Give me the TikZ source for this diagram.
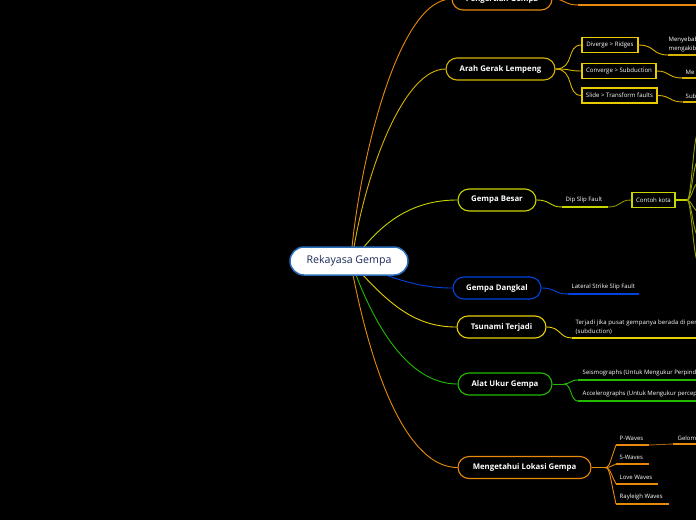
\documentclass[tikz,border=0pt]{standalone}
\usepackage{fontspec}
\setmainfont{Open Sans}
\definecolor{cOr}{HTML}{E8890C}
\definecolor{cGold}{HTML}{D8B400}
\definecolor{cBox}{HTML}{E8CC00}
\definecolor{cYG}{HTML}{C8D400}
\definecolor{cBlue}{HTML}{0044DD}
\definecolor{cYel}{HTML}{E8D000}
\definecolor{cGrn}{HTML}{22BB00}
\definecolor{cRoot}{HTML}{2A6EBB}
\definecolor{cNavy}{HTML}{1A2A5A}
\begin{document}
\begin{tikzpicture}[x=1pt,y=-1pt,
  mainnode/.style={draw, line width=1.1pt, rounded corners=11pt, fill=black, text=white,
    font=\fontsize{7.8}{9}\selectfont\bfseries, minimum height=22pt, inner sep=0pt},
  boxnode/.style={draw, line width=1.3pt, fill=black, text=white,
    font=\fontsize{6.1}{7}\selectfont, minimum height=15pt, inner sep=0pt},
  lbl/.style={text=white, font=\fontsize{6}{9}\selectfont, anchor=south west, inner sep=0.5pt, align=left},
  conn/.style={line width=0.9pt},
  uline/.style={line width=1.6pt}
]
\fill[black] (0,0) rectangle (696,520);
\useasboundingbox (0,0) rectangle (696,520);

% root exit points
\coordinate (r1) at (352,247);
\coordinate (r2) at (354,247);
\coordinate (r3) at (363,248);
\coordinate (r4) at (383,274);
\coordinate (r5) at (362,274);
\coordinate (r6) at (356,275);
\coordinate (r7) at (353,275);

% main nodes
\node[mainnode, draw=cOr, minimum width=100pt] (pg) at (502,-1) {Pengertian Gempa};
\node[mainnode, draw=cGold, minimum width=109pt] (ag) at (500.5,69) {Arah Gerak Lempeng};
\node[mainnode, draw=cYG, minimum width=78pt] (gb) at (497,200) {Gempa Besar};
\node[mainnode, draw=cBlue, minimum width=88pt] (gd) at (497,288) {Gempa Dangkal};
\node[mainnode, draw=cYel, minimum width=89pt] (tt) at (501.5,327) {Tsunami Terjadi};
\node[mainnode, draw=cGrn, minimum width=94pt] (au) at (505,384) {Alat Ukur Gempa};
\node[mainnode, draw=cOr, minimum width=133pt] (ml) at (524.5,467.5) {Mengetahui Lokasi Gempa};

% root connectors
\draw[conn, cOr] (r1) .. controls (362,150) and (400,-1) .. (pg.west);
\draw[conn, cGold] (r2) .. controls (368,165) and (405,69) .. (ag.west);
\draw[conn, cYG] (r3) .. controls (390,215) and (420,200) .. (gb.west);
\draw[conn, cBlue] (r4) .. controls (410,284) and (430,288) .. (gd.west);
\draw[conn, cYel] (r5) .. controls (395,310) and (420,327) .. (tt.west);
\draw[conn, cGrn] (r6) .. controls (385,350) and (420,384) .. (au.west);
\draw[conn, cOr] (r7) .. controls (378,400) and (415,467.5) .. (ml.west);

% root
\node[draw=cRoot, line width=1.5pt, fill=white, rounded corners=14pt, minimum width=118pt,
  minimum height=28pt, text=cNavy, font=\fontsize{10.6}{12}\selectfont] (root) at (349,261) {Rekayasa Gempa};

% Pengertian Gempa
\coordinate (pgu) at (578,5);
\coordinate (pge) at (700,5);
\draw[conn, cOr] (pg.east) .. controls (566,-1) and (564,5) .. (pgu);
\draw[uline, cOr] (pgu) -- (pge);

% Arah Gerak Lempeng
\node[boxnode, draw=cBox, minimum width=56pt] (d1) at (610,45) {Diverge > Ridges};
\node[boxnode, draw=cBox, minimum width=74pt] (d2) at (619,71) {Converge > Subduction};
\node[boxnode, draw=cBox, minimum width=75pt] (d3) at (619.5,95.5) {Slide > Transform faults};
\draw[conn, cGold] (ag.east) .. controls (575,69) and (566,45) .. (d1.west);
\draw[conn, cGold] (ag.east) .. controls (572,69) and (568,71) .. (d2.west);
\draw[conn, cGold] (ag.east) .. controls (575,69) and (566,95.5) .. (d3.west);
\coordinate (u1) at (668,55); \coordinate (u1e) at (700,55);
\coordinate (u2) at (682,78); \coordinate (u2e) at (700,78);
\coordinate (u3) at (683,102); \coordinate (u3e) at (700,102);
\draw[conn, cGold] (d1.east) .. controls (655,45) and (652,55) .. (u1);
\draw[conn, cGold] (d2.east) .. controls (670,71) and (668,78) .. (u2);
\draw[conn, cGold] (d3.east) .. controls (671,95.5) and (669,102) .. (u3);
\draw[uline, cGold] (u1) -- (u1e);
\draw[uline, cGold] (u2) -- (u2e);
\draw[uline, cGold] (u3) -- (u3e);
\node[lbl] (t1) at (668,52.5) {Menyebab\\mengakibt};
\node[lbl] (t2) at (685,75) {Me};
\node[lbl] (t3) at (685,99) {Sub};

% Gempa Besar
\coordinate (gbu) at (562,207);
\coordinate (gbe) at (608,207);
\draw[conn, cYG] (gb.east) .. controls (551,200) and (549,207) .. (gbu);
\draw[uline, cYG] (gbu) -- (gbe);
\node[lbl] (dsf) at (565,203.5) {Dip Slip Fault};
\node[boxnode, draw=cYG, minimum width=43pt] (ck) at (653.5,200) {Contoh kota};
\draw[conn, cYG!70!black] (gbe) .. controls (622,207) and (618,200) .. (ck.west);
\coordinate (ckj) at (687,200);
\draw[uline, cYG] (ck.east) -- (ckj);
\foreach \yy in {128,158,182,212,238,266}{
  \draw[conn, cYG!75!black] (ckj) .. controls (692,200) and (693,\yy) .. (700,\yy);
}

% Gempa Dangkal
\coordinate (gdu) at (568,294);
\coordinate (gde) at (639,294);
\draw[conn, cBlue] (gd.east) .. controls (556,288) and (554,294) .. (gdu);
\draw[uline, cBlue] (gdu) -- (gde);
\node[lbl] (lssf) at (571,291) {Lateral Strike Slip Fault};

% Tsunami Terjadi
\coordinate (ttu) at (572,338);
\coordinate (tte) at (700,338);
\draw[conn, cYel] (tt.east) .. controls (561,327) and (559,338) .. (ttu);
\draw[uline, cYel] (ttu) -- (tte);
\node[lbl, font=\fontsize{6}{9}\selectfont\addfontfeature{LetterSpace=2}] (tsx) at (575,335) {Terjadi jika pusat gempanya berada di perte\\(subduction)};

% Alat Ukur Gempa
\coordinate (auj) at (564,384);
\coordinate (a1) at (578,380); \coordinate (a1e) at (700,380);
\coordinate (a2) at (578,401); \coordinate (a2e) at (700,401);
\draw[conn, cGrn] (au.east) -- (auj);
\draw[conn, cGrn] (auj) .. controls (570,384) and (570,380) .. (a1);
\draw[conn, cGrn] (auj) .. controls (572,384) and (570,401) .. (a2);
\draw[uline, cGrn] (a1) -- (a1e);
\draw[uline, cGrn] (a2) -- (a2e);
\node[lbl] (sg) at (582,376.5) {Seismographs (Untuk Mengukur Perpind};
\node[lbl] (acg) at (582,397.5) {Accelerographs (Untuk Mengukur percep};

% Mengetahui Lokasi Gempa
\coordinate (mlj) at (603,467.5);
\coordinate (w1) at (616,445); \coordinate (w1e) at (649,445);
\coordinate (w2) at (616,464); \coordinate (w2e) at (649,464);
\coordinate (w3) at (616,484); \coordinate (w3e) at (658,484);
\coordinate (w4) at (616,504); \coordinate (w4e) at (669,504);
\draw[conn, cOr] (ml.east) -- (mlj);
\foreach \w in {w1,w2,w3,w4}{
  \draw[conn, cOr] (mlj) .. controls (610,467.5) and (608,467.5) .. (\w);
}
\draw[uline, cOr] (w1) -- (w1e);
\draw[uline, cOr] (w2) -- (w2e);
\draw[uline, cOr] (w3) -- (w3e);
\draw[uline, cOr] (w4) -- (w4e);
\node[lbl] (pw) at (619,441.5) {P-Waves};
\node[lbl] (sw) at (619,460.5) {S-Waves};
\node[lbl] (lw) at (619,480.5) {Love Waves};
\node[lbl] (rw) at (619,500.5) {Rayleigh Waves};
\coordinate (gl) at (673,444);
\coordinate (gle) at (700,444);
\draw[conn, cOr!70!black] (w1e) -- (gl);
\draw[uline, cOr] (gl) -- (gle);
\node[lbl] (glm) at (677,441) {Gelom};
\end{tikzpicture}
\end{document}
